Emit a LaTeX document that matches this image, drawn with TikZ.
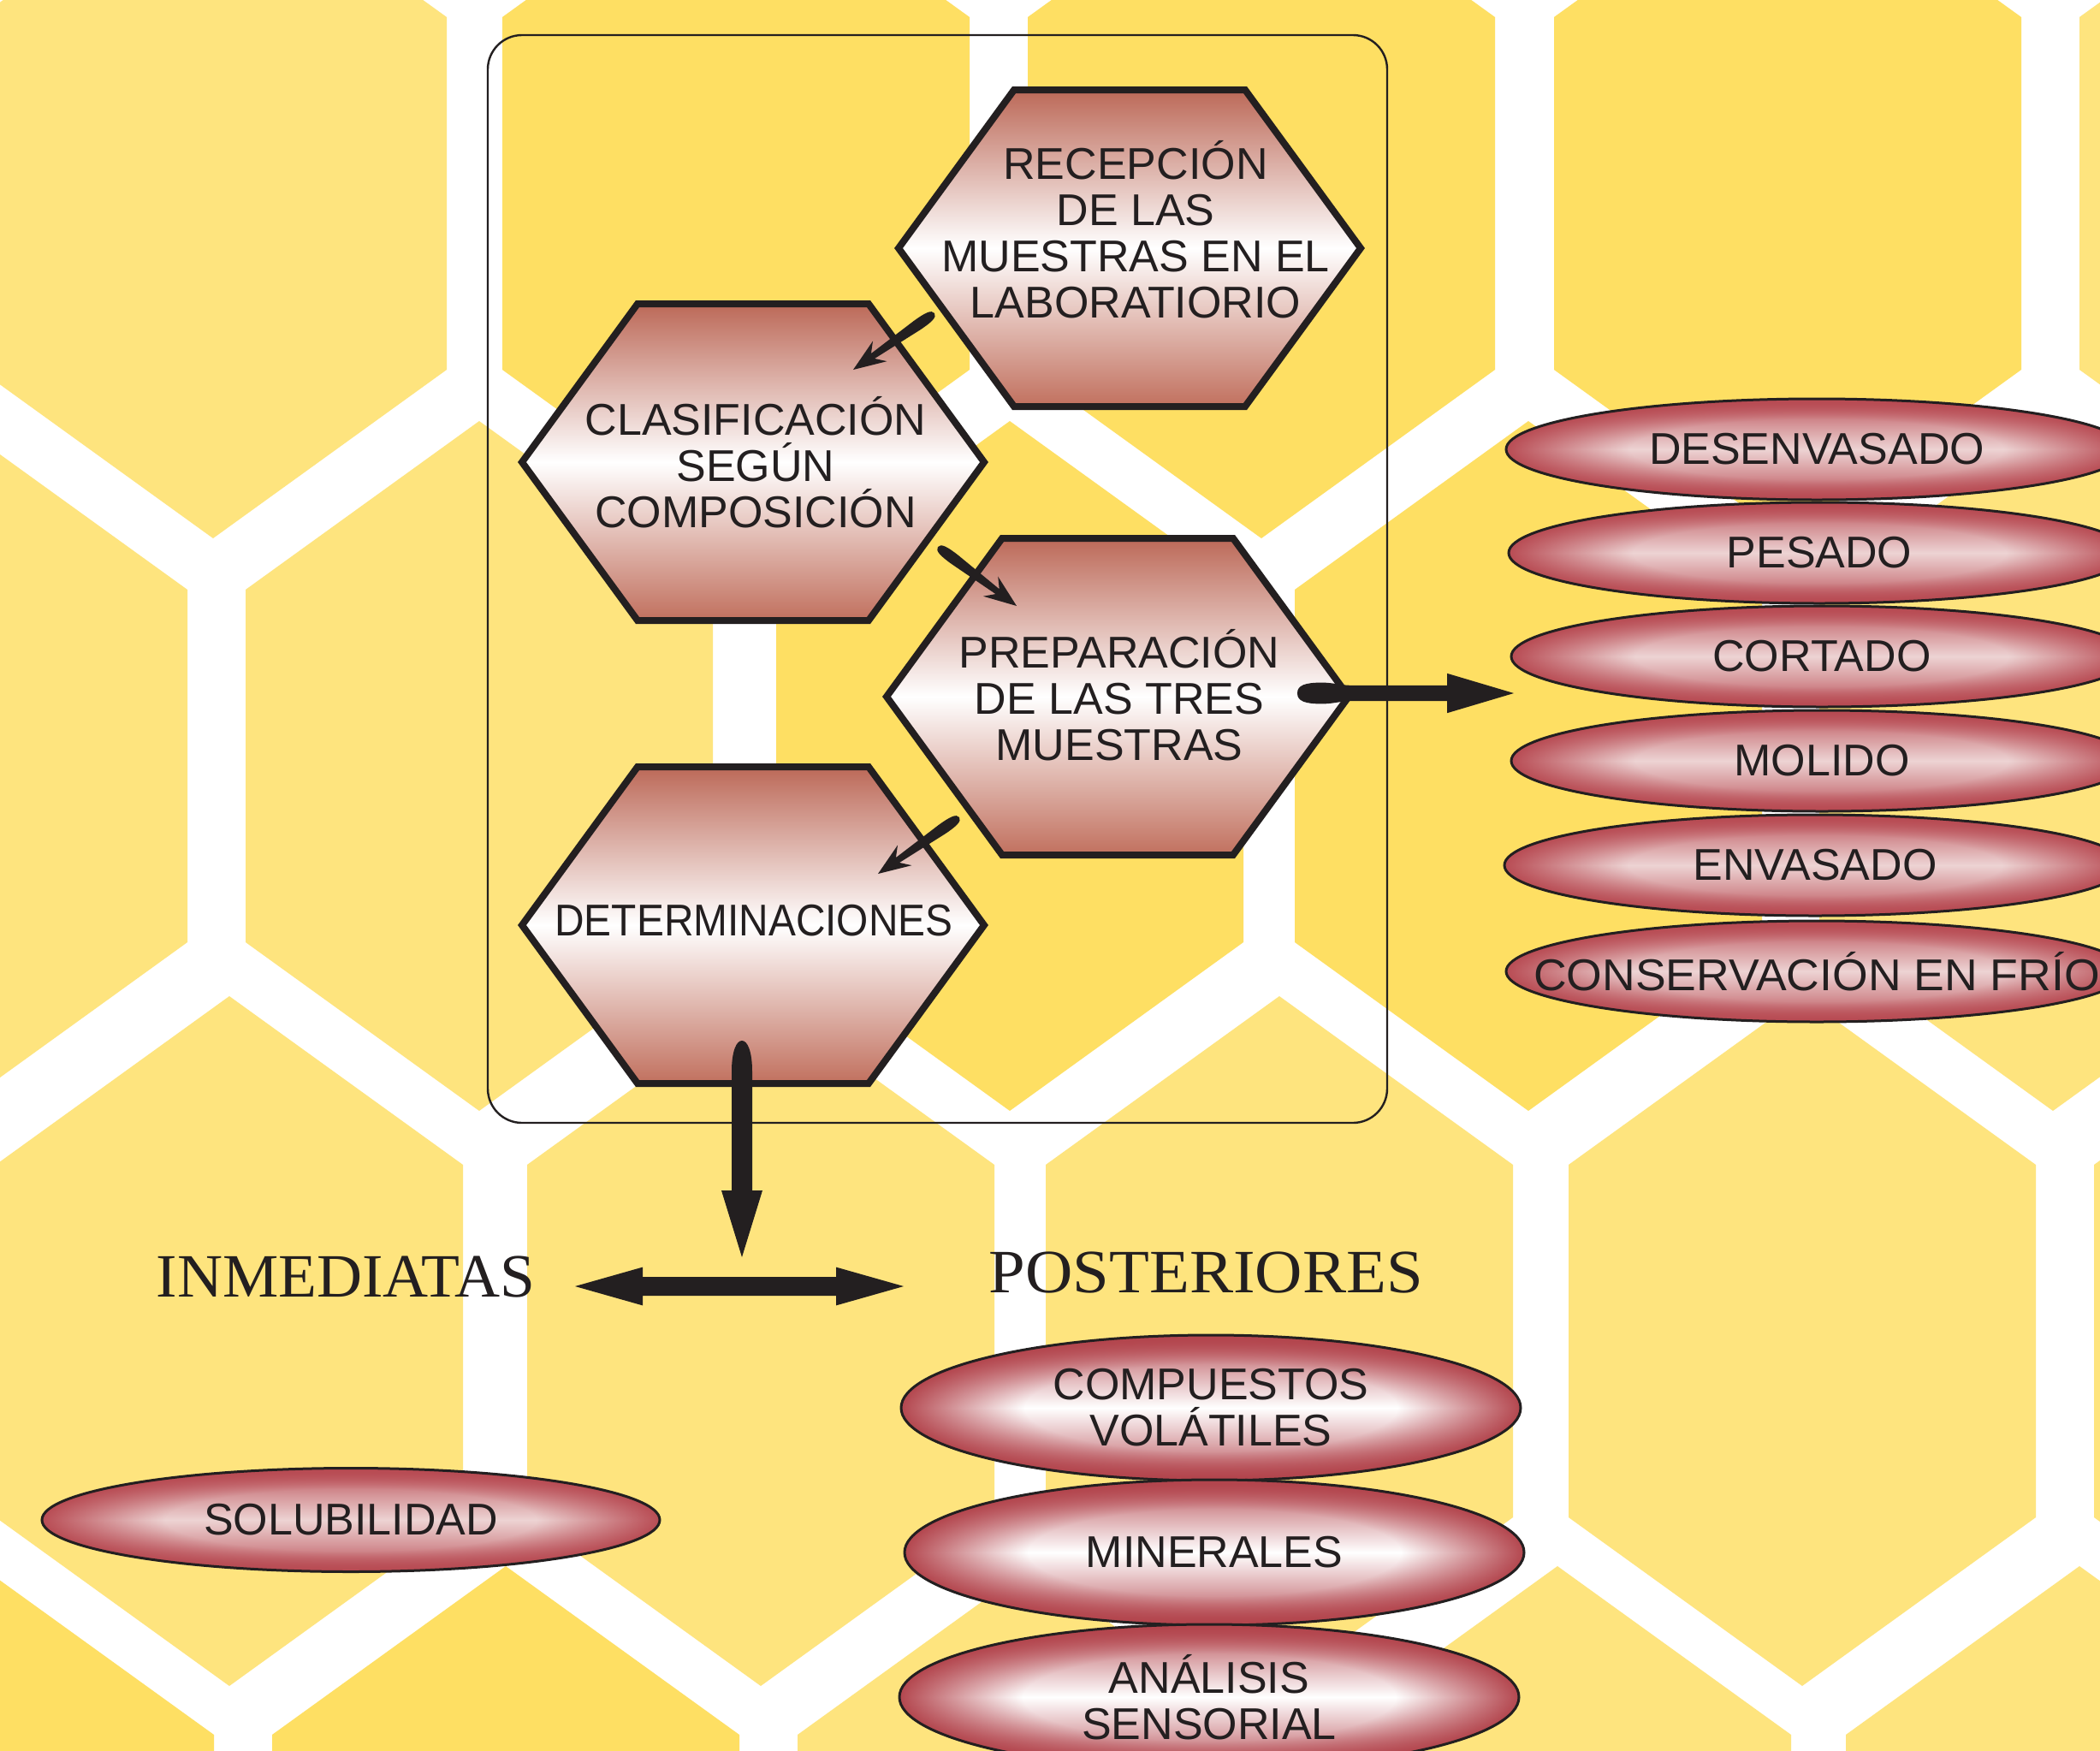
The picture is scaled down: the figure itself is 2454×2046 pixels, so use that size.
\documentclass[tikz,border=0pt]{standalone}
\usepackage{fontspec}
\setmainfont{Liberation Sans}
\newfontfamily\labelserif{Liberation Serif}
\usepackage{graphicx}
\usetikzlibrary{shapes.geometric,fadings,decorations.markings}

\definecolor{honeyL}{HTML}{FEE47E}
\definecolor{honeyD}{HTML}{FEDF63}
\definecolor{ink}{HTML}{231F20}
\definecolor{hexbrownT}{HTML}{BC6958}
\definecolor{hexbrownB}{HTML}{C1705E}
\definecolor{pillred}{HTML}{B84B53}
\definecolor{pillpink}{HTML}{EDD3D3}
\definecolor{pillredB}{HTML}{B3454D}
\colorlet{pillmidR}{pillred!45!pillpink}
\colorlet{pillmidB}{pillredB!45!white}

\pgfdeclareverticalshading{pillvR}{100bp}{color(0bp)=(pillred); color(25bp)=(pillred); color(38bp)=(pillmidR); color(50bp)=(pillpink); color(62bp)=(pillmidR); color(75bp)=(pillred); color(100bp)=(pillred)}
\pgfdeclareverticalshading{pillvB}{100bp}{color(0bp)=(pillredB); color(25bp)=(pillredB); color(38bp)=(pillmidB); color(50bp)=(white); color(62bp)=(pillmidB); color(75bp)=(pillredB); color(100bp)=(pillredB)}
\pgfdeclareradialshading{rimshade}{\pgfpointorigin}{color(0bp)=(black); color(15bp)=(black); color(25bp)=(white); color(50bp)=(white)}
\pgfdeclarefading{rimfade}{\pgfuseshading{rimshade}}

\tikzset{
  hexshape/.style={draw=ink, line width=2pt, line join=miter, top color=hexbrownT, bottom color=hexbrownB, middle color=white},
  hextext/.style={font=\fontsize{13pt}{13.5pt}\selectfont, text=ink, align=center, inner sep=0pt},
  pillbase/.style={ellipse, draw=ink, line width=0.75pt, inner sep=0pt, font=\fontsize{13pt}{13.5pt}\selectfont, text=ink, align=center},
  pillR/.style={pillbase, minimum width=181.5pt, minimum height=29.5pt, path picture={
      \shade[shading=pillvR] (path picture bounding box.south west) rectangle (path picture bounding box.north east);
      \fill[pillred, path fading=rimfade, fit fading=true] (path picture bounding box.south west) rectangle (path picture bounding box.north east);}},
  pillB/.style={pillbase, minimum width=181pt, minimum height=42.5pt, path picture={
      \shade[shading=pillvB] (path picture bounding box.south west) rectangle (path picture bounding box.north east);
      \fill[pillredB, path fading=rimfade, fit fading=true] (path picture bounding box.south west) rectangle (path picture bounding box.north east);}},
  boxframe/.style={draw=ink, line width=0.6pt, rounded corners=10pt},
  headlabel/.style={font=\labelserif\fontsize{18pt}{18pt}\selectfont, text=ink, inner sep=0pt, anchor=base west},
  smallarrow/.style={decorate, decoration={markings, mark=at position 0 with {
      \fill[ink] (0pt,0pt) .. controls (0pt,1.4pt) and ({0.08*\pgfdecoratedpathlength},1.7pt) .. ({0.22*\pgfdecoratedpathlength},1.6pt)
        -- ({\pgfdecoratedpathlength-7pt},0.9pt) -- ({\pgfdecoratedpathlength-9.5pt},3.6pt) -- (\pgfdecoratedpathlength,0pt)
        -- ({\pgfdecoratedpathlength-9.5pt},-3.6pt) -- ({\pgfdecoratedpathlength-7pt},-0.9pt) -- ({0.22*\pgfdecoratedpathlength},-1.6pt)
        .. controls ({0.08*\pgfdecoratedpathlength},-1.7pt) and (0pt,-1.4pt) .. (0pt,0pt) -- cycle;}}},
  blobarrow/.style={decorate, decoration={markings, mark=at position 0 with {
      \fill[ink] (0pt,0pt) .. controls (0pt,2.4pt) and (2.5pt,3.1pt) .. (7pt,3.1pt) .. controls (11pt,3.1pt) and (12pt,2.3pt) .. (16pt,2.3pt)
        -- ({\pgfdecoratedpathlength-19.5pt},2.3pt) -- ({\pgfdecoratedpathlength-19.5pt},5.8pt) -- (\pgfdecoratedpathlength,0pt)
        -- ({\pgfdecoratedpathlength-19.5pt},-5.8pt) -- ({\pgfdecoratedpathlength-19.5pt},-2.3pt) -- (16pt,-2.3pt)
        .. controls (12pt,-2.3pt) and (11pt,-3.1pt) .. (7pt,-3.1pt) .. controls (2.5pt,-3.1pt) and (0pt,-2.4pt) .. (0pt,0pt) -- cycle;}}},
  downarrow/.style={decorate, decoration={markings, mark=at position 0 with {
      \fill[ink] (0pt,0pt) .. controls (0pt,1.6pt) and (3pt,3pt) .. (9pt,3pt)
        -- ({\pgfdecoratedpathlength-19.5pt},3pt) -- ({\pgfdecoratedpathlength-19.5pt},6pt) -- (\pgfdecoratedpathlength,0pt)
        -- ({\pgfdecoratedpathlength-19.5pt},-6pt) -- ({\pgfdecoratedpathlength-19.5pt},-3pt) -- (9pt,-3pt)
        .. controls (3pt,-3pt) and (0pt,-1.6pt) .. (0pt,0pt) -- cycle;}}},
  twoheadarrow/.style={decorate, decoration={markings, mark=at position 0 with {
      \fill[ink] (0pt,0pt) -- (19.75pt,5.6pt) -- (19.75pt,2.75pt) -- ({\pgfdecoratedpathlength-19.75pt},2.75pt)
        -- ({\pgfdecoratedpathlength-19.75pt},5.6pt) -- (\pgfdecoratedpathlength,0pt) -- ({\pgfdecoratedpathlength-19.75pt},-5.6pt)
        -- ({\pgfdecoratedpathlength-19.75pt},-2.75pt) -- (19.75pt,-2.75pt) -- (19.75pt,-5.6pt) -- cycle;}}},
}

\newcommand\hexnode[6]{% name, cx, cy, text, tx, ty
  \path[hexshape] (#2-270,#3) -- (#2-135,#3-185) -- (#2+135,#3-185) -- (#2+270,#3) -- (#2+135,#3+185) -- (#2-135,#3+185) -- cycle;
  \node[hextext] (#1) at (#5,#6) {#4};}

\begin{document}
\begin{tikzpicture}[x=0.25pt, y=-0.25pt]
\useasboundingbox (0,0) rectangle (2454,2046);
\clip (0,0) rectangle (2454,2046);
\fill[white] (0,0) rectangle (2454,2046);

% honeycomb background
\foreach \cx/\cy/\col in {249/226/honeyL, 860/226/honeyD, 1474/226/honeyD, 2089/226/honeyD, 2703/226/honeyL,
    -54/895/honeyL, 560/895/honeyL, 1180/895/honeyD, 1786/895/honeyD, 2399/895/honeyL,
    268/1567/honeyL, 889/1567/honeyL, 1495/1567/honeyL, 2106/1567/honeyL, 2720/1567/honeyL,
    -23/2233/honeyD, 591/2233/honeyD, 1205/2233/honeyL, 1820/2233/honeyL, 2430/2233/honeyL}
  \fill[\col] (\cx,\cy-403) -- (\cx+273,\cy-206) -- (\cx+273,\cy+206) -- (\cx,\cy+403) -- (\cx-273,\cy+206) -- (\cx-273,\cy-206) -- cycle;

% frame
\draw[boxframe] (570,41) rectangle (1621,1312);

% hexagons
\hexnode{rec}{1320}{290}{RECEPCIÓN\\DE LAS\\MUESTRAS EN EL\\LABORATIORIO}{1327}{268}
\hexnode{clas}{880}{540}{CLASIFICACIÓN\\SEGÚN\\COMPOSICIÓN}{883}{540}
\hexnode{prep}{1306}{814}{PREPARACIÓN\\DE LAS TRES\\MUESTRAS}{1308}{812}
\hexnode{det}{880}{1081}{\scalebox{0.92}[1]{DETERMINACIONES}}{881}{1076}

% right ellipses
\node[pillR] (desenv) at (2123,525) {DESENVASADO};
\node[pillR] (pesado) at (2126,646) {PESADO};
\node[pillR] (cortado) at (2129,767) {CORTADO};
\node[pillR] (molido) at (2129,889) {MOLIDO};
\node[pillR] (envasado) at (2121,1011) {ENVASADO};
\node[pillR] (conserv) at (2123,1135) {\makebox[0pt]{\scalebox{1.03}[1]{CONSERVACIÓN EN FRÍO}}};

% lower ellipses
\node[pillB] (compuestos) at (1415,1645) {COMPUESTOS\\VOLÁTILES};
\node[pillB] (minerales) at (1419,1814) {MINERALES};
\node[pillB] (analisis) at (1413,1983) {ANÁLISIS\\SENSORIAL};
\node[pillR, minimum width=180.5pt, minimum height=30.25pt] (solub) at (410,1776) {SOLUBILIDAD};

% labels
\node[headlabel] (inmed) at (182,1515) {\scalebox{1.02}[1]{INMEDIATAS}};
\node[headlabel] (poster) at (1155,1510) {\scalebox{1.065}[1]{POSTERIORES}};

% arrow end points
\coordinate (a1s) at (1092,366);  \coordinate (a1e) at (997,432);
\coordinate (a2s) at (1096,639);  \coordinate (a2e) at (1188,708);
\coordinate (a3s) at (1121,955);  \coordinate (a3e) at (1026,1021);
\coordinate (ras) at (1516,810);  \coordinate (rae) at (1769,810);
\coordinate (das) at (867,1216);  \coordinate (dae) at (867,1469);
\coordinate (hl) at (672,1503);   \coordinate (hr) at (1056,1503);

\path[smallarrow] (a1s) -- (a1e);
\path[smallarrow] (a2s) -- (a2e);
\path[smallarrow] (a3s) -- (a3e);
\path[blobarrow] (ras) -- (rae);
\path[downarrow] (das) -- (dae);
\path[twoheadarrow] (hl) -- (hr);
\end{tikzpicture}
\end{document}
